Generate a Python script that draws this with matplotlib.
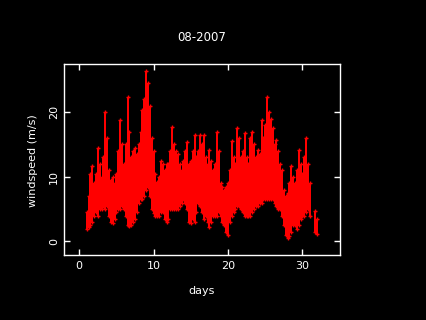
import numpy as np
import matplotlib
matplotlib.use('Agg')
import matplotlib.pyplot as plt

# windspeed readings per quarter day (lowest and highest value seen in each slot)
days = [1.0, 1.25, 1.5, 1.75, 2.0, 2.25, 2.5, 2.75, 3.0, 3.25, 3.5, 3.75,
        4.0, 4.25, 4.5, 4.75, 5.0, 5.25, 5.5, 5.75, 6.0, 6.25, 6.5, 6.75,
        7.0, 7.25, 7.5, 7.75, 8.0, 8.25, 8.5, 8.75, 9.0, 9.25, 9.5, 9.75,
        10.0, 10.25, 10.5, 10.75, 11.0, 11.25, 11.5, 11.75, 12.0, 12.25, 12.5, 12.75,
        13.0, 13.25, 13.5, 13.75, 14.0, 14.25, 14.5, 14.75, 15.0, 15.25, 15.5, 15.75,
        16.0, 16.25, 16.5, 16.75, 17.0, 17.25, 17.5, 17.75, 18.0, 18.25, 18.5, 18.75,
        19.0, 19.25, 19.5, 19.75, 20.0, 20.25, 20.5, 20.75, 21.0, 21.25, 21.5, 21.75,
        22.0, 22.25, 22.5, 22.75, 23.0, 23.25, 23.5, 23.75, 24.0, 24.25, 24.5, 24.75,
        25.0, 25.25, 25.5, 25.75, 26.0, 26.25, 26.5, 26.75, 27.0, 27.25, 27.5, 27.75,
        28.0, 28.25, 28.5, 28.75, 29.0, 29.25, 29.5, 29.75, 30.0, 30.25, 30.5, 30.75,
        31.0, 31.75, 32.0]
speed_lo = [2.0, 2.2, 2.5, 3.0, 4.0, 4.5, 4.0, 5.0, 5.0, 5.5, 5.0, 5.5,
            4.0, 3.0, 2.8, 3.5, 4.5, 5.0, 5.0, 5.5, 5.0, 4.0, 2.5, 2.4,
            2.6, 3.0, 3.5, 4.5, 6.0, 6.5, 6.5, 7.0, 8.0, 8.5, 7.0, 5.0,
            4.4, 4.0, 4.0, 4.0, 4.5, 4.5, 3.5, 3.0, 3.5, 5.0, 5.0, 5.0,
            5.0, 5.0, 5.5, 6.0, 6.5, 6.0, 5.0, 3.0, 2.8, 3.5, 3.0, 4.5,
            6.0, 5.5, 4.5, 3.5, 4.0, 3.0, 2.3, 3.0, 4.0, 4.0, 4.0, 4.5,
            4.0, 3.0, 2.5, 1.5, 1.0, 3.0, 4.0, 4.5, 5.0, 5.5, 5.5, 5.0,
            4.5, 4.0, 4.0, 4.0, 4.0, 4.5, 5.0, 5.5, 5.5, 6.0, 6.0, 6.5,
            6.5, 6.5, 6.5, 6.5, 6.5, 6.0, 5.5, 5.0, 5.0, 4.0, 2.5, 1.0,
            0.5, 0.8, 1.5, 2.5, 2.5, 2.0, 2.5, 3.5, 4.0, 4.0, 4.5, 5.0,
            4.0, 1.5, 1.1]
speed_hi = [4.5, 7.0, 10.5, 11.7, 9.0, 10.5, 14.5, 12.0, 10.0, 13.0, 20.0, 16.0,
            11.0, 9.5, 10.0, 9.0, 10.5, 14.0, 18.8, 15.0, 12.0, 15.0, 22.3, 17.0,
            13.0, 14.0, 14.5, 13.5, 15.0, 17.0, 20.3, 22.0, 26.3, 24.5, 21.0, 16.0,
            14.0, 10.5, 9.2, 10.0, 12.5, 12.0, 11.0, 12.0, 12.0, 14.0, 17.7, 15.0,
            14.0, 13.5, 12.0, 11.0, 12.5, 14.0, 15.4, 12.0, 12.5, 14.0, 16.5, 13.0,
            14.0, 16.5, 15.0, 16.5, 13.0, 12.0, 14.2, 12.5, 11.0, 12.0, 17.0, 14.0,
            9.0, 8.5, 8.0, 8.5, 9.0, 11.0, 15.5, 13.0, 12.0, 17.5, 16.0, 13.0,
            14.0, 16.7, 13.0, 12.0, 16.0, 17.0, 15.0, 13.0, 14.2, 13.5, 18.8, 16.0,
            18.0, 22.3, 20.0, 19.0, 17.6, 15.0, 15.7, 14.0, 12.0, 11.0, 8.0, 7.0,
            7.5, 9.0, 11.6, 10.0, 9.0, 11.0, 14.2, 12.0, 10.5, 13.0, 16.0, 12.0,
            9.0, 4.7, 3.5]

title = '08-2007'
xticks = [0, 10, 20, 30]
yticks = [0, 10, 20]

fig = plt.figure(figsize=(4.26, 3.2), dpi=100, facecolor='black')
ax = fig.add_axes([0.151, 0.203, 0.648, 0.596])
ax.set_facecolor('black')

ax.vlines(days, speed_lo, speed_hi, colors='#ff0000', linewidth=1.1, antialiased=False)
ax.plot(days, speed_hi, linestyle='none', marker='+', color='#ff0000',
        markersize=2.5, markeredgewidth=1)
ax.plot(days, speed_lo, linestyle='none', marker='+', color='#ff0000',
        markersize=2.5, markeredgewidth=1)

ax.set_xlim(-2.0, 35.1)
ax.set_ylim(-2.1, 27.4)
ax.set_xticks(xticks)
ax.set_yticks(yticks)
for s in ax.spines.values():
    s.set_color('white')
    s.set_linewidth(1)
ax.tick_params(direction='in', length=4, width=1, color='white', labelcolor='white',
               labelsize=8, top=True, right=True, pad=4.5)
ax.tick_params(axis='y', labelrotation=90, pad=4)
for lab in ax.get_yticklabels():
    lab.set_va('center')

fig.text(202 / 426, 1 - 41 / 320, title, color='white', fontsize=8.5, ha='center', va='baseline')
fig.text(202 / 426, 1 - 293.5 / 320, 'days', color='white', fontsize=8, ha='center', va='baseline')
fig.text(33.5 / 426, 1 - 161 / 320, 'windspeed (m/s)', color='white', fontsize=8,
         rotation=90, ha='center', va='center')

fig.savefig('out.png', dpi=100, facecolor='black')
